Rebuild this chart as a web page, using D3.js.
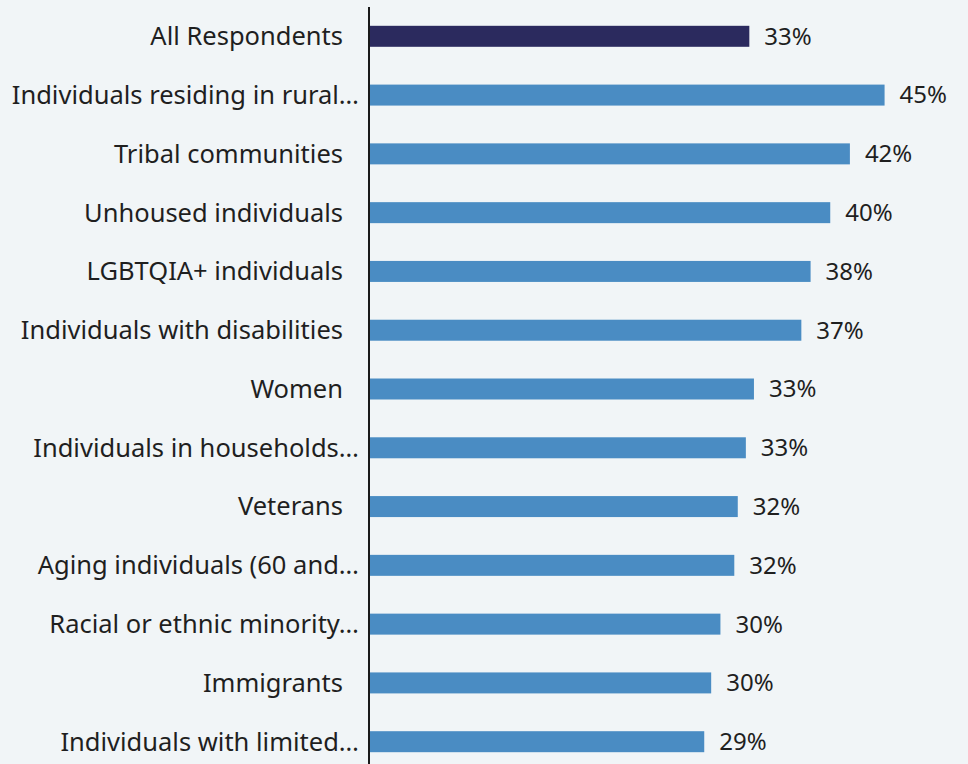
<!DOCTYPE html>
<html>
<head>
<meta charset="utf-8">
<script src="https://cdn.jsdelivr.net/npm/d3@7"></script>
<style>
  html, body { margin: 0; padding: 0; background: #f1f5f7; }
  svg { display: block; }
  text { font-family: "Noto Sans", "Open Sans", sans-serif; fill: #1f1f1f; }
</style>
</head>
<body>
<svg id="chart" width="968" height="764"></svg>
<script>
// Share of each group (percent)
const categories = [
  "All Respondents",
  "Individuals residing in rural…",
  "Tribal communities",
  "Unhoused individuals",
  "LGBTQIA+ individuals",
  "Individuals with disabilities",
  "Women",
  "Individuals in households…",
  "Veterans",
  "Aging individuals (60 and…",
  "Racial or ethnic minority…",
  "Immigrants",
  "Individuals with limited…"
];
const values = [32.9, 44.6, 41.6, 39.9, 38.2, 37.4, 33.3, 32.6, 31.9, 31.6, 30.4, 29.6, 29.0];
const highlight = ["All Respondents"];

const data = categories.map((c, i) => ({ label: c, value: values[i] }));

const svg = d3.select("#chart");
const axisX = 369;

const x = d3.scaleLinear().domain([0, 50]).range([axisX, axisX + 578]);
const y = d3.scaleBand()
  .domain(categories)
  .range([7, 771])
  .paddingInner(0.643)
  .paddingOuter(0.32);

// bars
svg.append("g").selectAll("rect")
  .data(data)
  .join("rect")
  .attr("x", x(0))
  .attr("y", d => y(d.label))
  .attr("width", d => x(d.value) - x(0))
  .attr("height", y.bandwidth())
  .attr("fill", d => highlight.includes(d.label) ? "#2b2a5e" : "#4a8cc3");

// category labels
svg.append("g").selectAll("text")
  .data(data)
  .join("text")
  .attr("x", d => d.label.endsWith("…") ? axisX - 10 : axisX - 26)
  .attr("y", d => y(d.label) + y.bandwidth() / 2)
  .attr("dy", "0.35em")
  .attr("text-anchor", "end")
  .style("font-size", "25.5px")
  .text(d => d.label);

// value labels
svg.append("g").selectAll("text")
  .data(data)
  .join("text")
  .attr("x", d => x(d.value) + 15)
  .attr("y", d => y(d.label) + y.bandwidth() / 2)
  .attr("dy", "0.35em")
  .style("font-size", "24px")
  .text(d => Math.round(d.value) + "%");

// vertical axis line
svg.append("line")
  .attr("x1", axisX).attr("x2", axisX)
  .attr("y1", 7).attr("y2", 764)
  .attr("stroke", "#1a1a1a")
  .attr("stroke-width", 2);
</script>
</body>
</html>
